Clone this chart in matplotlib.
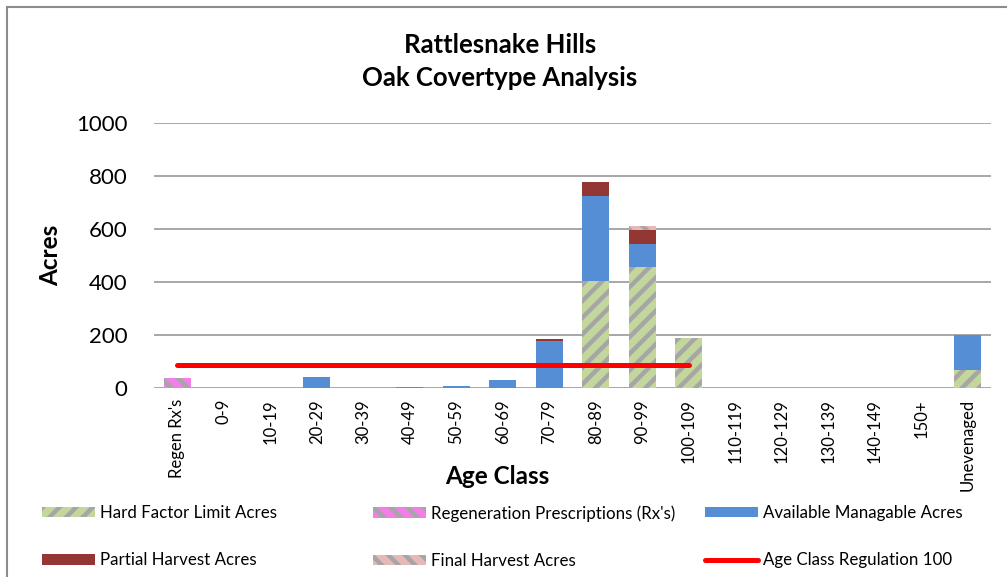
import matplotlib
matplotlib.use("Agg")
import matplotlib.pyplot as plt
from matplotlib.patches import Rectangle
import numpy as np

plt.rcParams['font.family'] = ['Lato', 'DejaVu Sans']
plt.rcParams['hatch.linewidth'] = 3.2

categories = ["Regen Rx's", "0-9", "10-19", "20-29", "30-39", "40-49", "50-59",
              "60-69", "70-79", "80-89", "90-99", "100-109", "110-119", "120-129",
              "130-139", "140-149", "150+", "Unevenaged"]

hard_factor = [0, 0, 0, 0, 0, 0, 0, 0, 0, 404, 457, 188, 0, 0, 0, 0, 0, 68]
regen_rx    = [38, 0, 0, 0, 0, 0, 0, 0, 0, 0, 0, 0, 0, 0, 0, 0, 0, 0]
available   = [0, 0, 0, 42, 0, 4, 8, 30, 179, 320, 88, 0, 0, 0, 0, 0, 0, 132]
partial     = [0, 0, 0, 0, 0, 0, 0, 0, 5, 53, 51, 0, 0, 0, 0, 0, 0, 0]
final       = [0, 0, 0, 0, 0, 0, 0, 0, 0, 0, 15, 0, 0, 0, 0, 0, 0, 0]
regulation  = [87] * 12   # Regen Rx's .. 100-109

yticks = [0, 200, 400, 600, 800, 1000]

fig = plt.figure(figsize=(10.07, 5.77), dpi=100)
ax = fig.add_axes([154/1007, 1 - 388/577, (991-154)/1007, (388-123)/577])

x = np.arange(len(categories))
w = 0.57
gray = '#A6A6A6'

series = [
    (hard_factor, '#C3D69B', '//', 'Hard Factor Limit Acres'),
    (regen_rx, '#F27FE8', '\\\\', "Regeneration Prescriptions (Rx's)"),
    (available, '#558ED5', None, 'Available Managable Acres'),
    (partial, '#943634', None, 'Partial Harvest Acres'),
    (final, '#E6B9B8', '\\\\', 'Final Harvest Acres'),
]
bottom = np.zeros(len(categories))
handles = {}
for vals, col, hatch, lab in series:
    v = np.array(vals, dtype=float)
    bc = ax.bar(x, v, w, bottom=bottom, color=col, hatch=hatch,
                edgecolor=gray if hatch else col, linewidth=0, label=lab, zorder=2)
    handles[lab] = bc
    bottom += v

line, = ax.plot(x[:len(regulation)], regulation, color='#FF0000', lw=3.6,
                solid_capstyle='round', zorder=3, label='Age Class Regulation 100')

ax.set_xlim(-0.5, len(categories) - 0.5)
ax.set_ylim(0, 1000)
ax.set_yticks(yticks)
ax.set_yticklabels([str(t) for t in yticks], fontsize=16)
ax.set_xticks(x)
ax.set_xticklabels(categories, rotation=90, fontsize=12)
ax.tick_params(axis='both', length=0)
ax.tick_params(axis='y', pad=19)
ax.tick_params(axis='x', pad=8)
for s in ax.spines.values():
    s.set_visible(False)
ax.grid(axis='y', color='#A0A0A0', lw=1.3, zorder=0)
ax.set_axisbelow(True)

ax.set_ylabel('Acres', fontsize=17.5, fontweight='bold', labelpad=10)
fig.text(497/1007, 1 - 477/577, 'Age Class', fontsize=17.5, fontweight='bold',
         ha='center', va='center')
fig.text(500/1007, 1 - 45/577, 'Rattlesnake Hills', fontsize=18.5, fontweight='bold',
         ha='center', va='center')
fig.text(500/1007, 1 - 78/577, 'Oak Covertype Analysis', fontsize=18.5, fontweight='bold',
         ha='center', va='center')

# border
fig.patches.append(Rectangle((7/1007, -0.1), 1.2, 1 - 7/577 + 0.1, transform=fig.transFigure,
                             fill=False, edgecolor='#8C8C8C', lw=1.5))

cols = [
    (['Hard Factor Limit Acres', 'Partial Harvest Acres'], 42),
    (["Regeneration Prescriptions (Rx's)", 'Final Harvest Acres'], 373),
    (['Available Managable Acres', 'Age Class Regulation 100'], 705),
]
for labs, xpx in cols:
    hs = [handles[l] if l in handles else line for l in labs]
    fig.legend(hs, labs, loc='upper left',
               bbox_to_anchor=(xpx/1007, 1 - 505/577), frameon=False,
               fontsize=12.2, handlelength=3.1, handleheight=0.6,
               handletextpad=0.35, labelspacing=1.85, borderpad=0,
               borderaxespad=0)

fig.savefig('out.png', dpi=100)
